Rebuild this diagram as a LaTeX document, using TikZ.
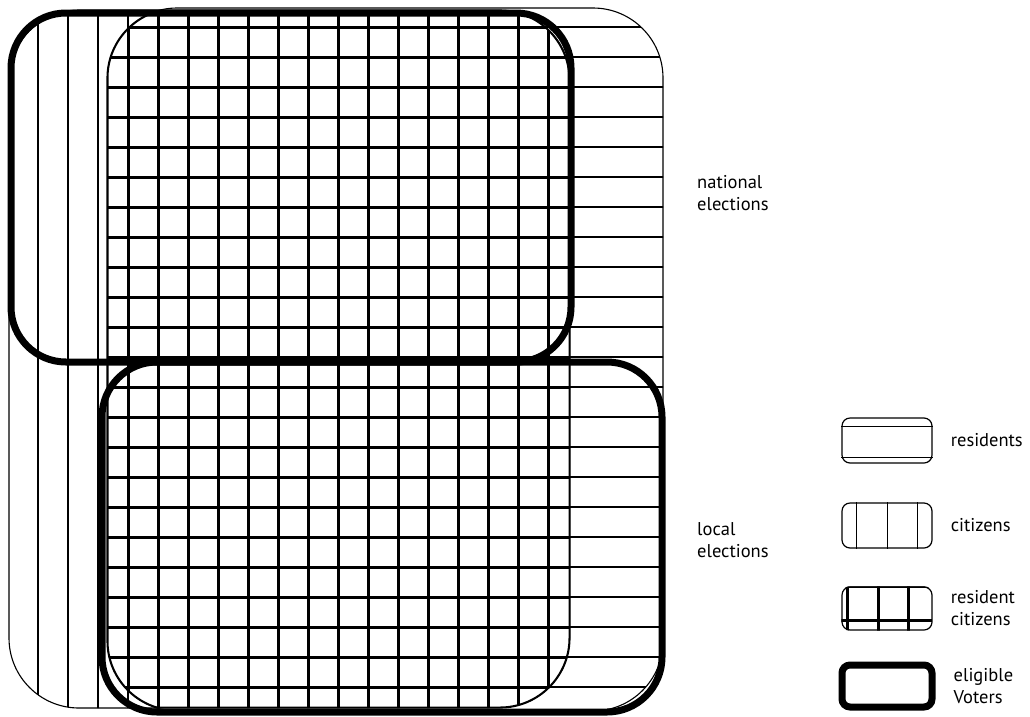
\documentclass[tikz,border=0pt]{standalone}
\usepackage{fontspec}
\setmainfont{PT Sans}
\usetikzlibrary{positioning}

\begin{document}
\begin{tikzpicture}[
        x=1pt, y=-1pt,
        thinline/.style={line width=1.1pt},
        gridline/.style={line width=3pt},
        voterline/.style={line width=7pt, rounded corners=55pt},
        legbox/.style={draw, line width=1.2pt, rounded corners=8pt, minimum width=90pt, inner sep=0pt},
        lab/.style={font=\fontsize{18.5}{22}\selectfont, align=left, inner sep=0pt},
    ]
    \useasboundingbox (0,0) rectangle (1030,716);

    % citizens
    \begin{scope}
        \clip[rounded corners=70pt] (9,10) rectangle (570,708);
        \foreach \x in {38,68,...,548} \draw[thinline] (\x,0) -- (\x,716);
    \end{scope}
    % residents
    \begin{scope}
        \clip[rounded corners=70pt] (107,8) rectangle (663,711);
        \foreach \y in {27,57,...,687} \draw[thinline] (100,\y) -- (670,\y);
    \end{scope}
    % resident citizens
    \begin{scope}
        \clip[rounded corners=70pt] (9,10) rectangle (570,708);
        \clip[rounded corners=70pt] (107,8) rectangle (663,711);
        \foreach \x in {38,68,...,548} \draw[gridline] (\x,0) -- (\x,716);
        \foreach \y in {27,57,...,687} \draw[gridline] (0,\y) -- (670,\y);
        \draw[gridline, rounded corners=70pt] (9,10) rectangle (570,708);
        \draw[gridline, rounded corners=70pt] (107,8) rectangle (663,711);
    \end{scope}
    \draw[thinline, rounded corners=70pt] (9,10) rectangle (570,708);
    \draw[thinline, rounded corners=70pt] (107,8) rectangle (663,711);

    % eligible voters
    \draw[voterline] (11,13) rectangle (571,362);
    \draw[voterline] (102,362) rectangle (662,712);

    \node[lab, anchor=west] (national) at (697,193) {national\\elections};
    \node[lab, anchor=west] (local) at (697,540) {local\\elections};

    % legend
    \node[legbox, minimum height=45pt] (resbox) at (887,440.5) {};
    \draw[thinline] ([yshift=-9pt]resbox.north west) -- ([yshift=-9pt]resbox.north east);
    \draw[thinline] ([yshift=6pt]resbox.south west) -- ([yshift=6pt]resbox.south east);
    \node[lab, right=18pt of resbox] (reslab) {residents};

    \node[legbox, minimum height=45pt] (citbox) at (887,525.5) {};
    \foreach \dx in {15,46,76}
        \draw[thinline] ([xshift=\dx pt]citbox.north west) -- ([xshift=\dx pt]citbox.south west);
    \node[lab, right=18pt of citbox] (citlab) {citizens};

    \node[legbox, minimum height=43pt] (rcbox) at (887,608.5) {};
    \begin{scope}
        \clip[rounded corners=8pt] (rcbox.south west) rectangle (rcbox.north east);
        \foreach \dx in {6,37,67}
            \draw[gridline] ([xshift=\dx pt]rcbox.north west) -- ([xshift=\dx pt]rcbox.south west);
        \draw[gridline] ([yshift=10pt]rcbox.south west) -- ([yshift=10pt]rcbox.south east);
        \draw[gridline] (rcbox.north west) -- (rcbox.north east);
    \end{scope}
    \node[lab, right=18pt of rcbox] (rclab) {resident\\citizens};

    \node[legbox, minimum height=42pt, line width=7pt] (votbox) at (887,686) {};
    \node[lab, right=18pt of votbox] (votlab) {eligible\\Voters};

\end{tikzpicture}
\end{document}
